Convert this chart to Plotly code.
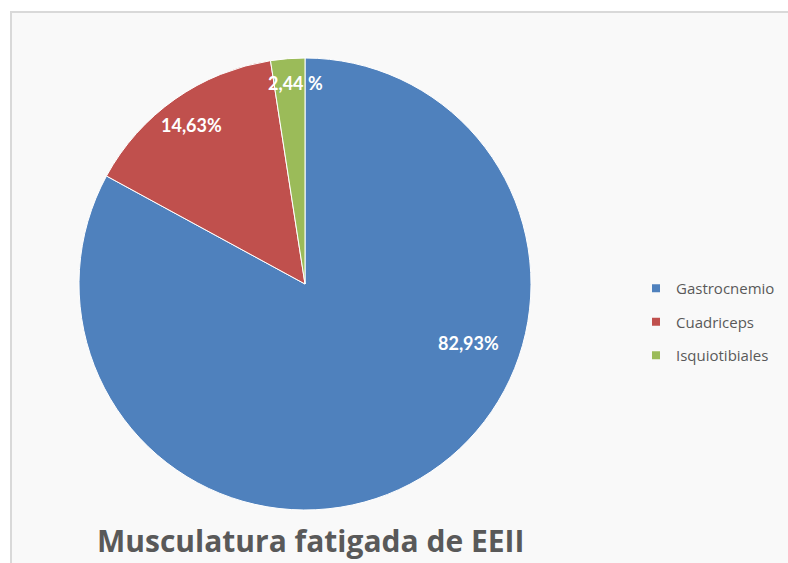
import plotly.graph_objects as go

W, H = 788, 563

categories = ["Gastrocnemio", "Cuadriceps", "Isquiotibiales"]
values = [82.93, 14.63, 2.44]
value_labels = ["82,93%", "14,63%", "2,44 %"]
colors = ["#4F81BD", "#C0504D", "#9BBB59"]
title_text = "Musculatura fatigada de EEII"

# label positions (pixels) as placed in the reference
label_px = [(468, 343), (191, 125), (295, 83)]

cx, cy, r = 305, 284, 226

fig = go.Figure()
fig.add_trace(go.Pie(
    labels=categories, values=values,
    marker=dict(colors=colors, line=dict(color="white", width=1)),
    sort=False, direction="clockwise", rotation=0,
    textinfo="none", hoverinfo="label+percent",
    showlegend=False,
    domain=dict(x=[(cx - r) / W, (cx + r) / W], y=[1 - (cy + r) / H, 1 - (cy - r) / H]),
))

# legend entries via invisible markers
for i, (c, col) in enumerate(zip(categories, colors)):
    fig.add_trace(go.Scatter(
        x=[None], y=[None], mode="markers", name=c,
        marker=dict(symbol="square", size=8, color=col),
        legendgroup=c, showlegend=True,
    ))

annotations = []
for (px, py), t in zip(label_px, value_labels):
    annotations.append(dict(
        x=px / W, y=1 - py / H, xref="paper", yref="paper",
        text=f"<b>{t}</b>", showarrow=False,
        font=dict(family="Lato", size=18, color="white"),
        xanchor="center", yanchor="middle",
    ))
annotations.append(dict(
    x=310 / W, y=1 - 540 / H, xref="paper", yref="paper",
    text=f"<b>{title_text}</b>", showarrow=False,
    font=dict(family="Open Sans", size=30, color="#595959"),
    xanchor="center", yanchor="middle",
))

fig.update_layout(
    width=W, height=H,
    margin=dict(l=0, r=0, t=0, b=0),
    paper_bgcolor="white", plot_bgcolor="rgba(0,0,0,0)",
    xaxis=dict(visible=False), yaxis=dict(visible=False),
    shapes=[dict(type="rect", xref="paper", yref="paper",
                 x0=11 / W, x1=1.02, y0=-0.02, y1=1 - 12 / H,
                 fillcolor="#F9F9F9", line=dict(color="#D9D9D9", width=2),
                 layer="below")],
    annotations=annotations,
    legend=dict(
        x=636 / W, y=1 - 272 / H, xanchor="left", yanchor="top",
        font=dict(family="Open Sans", size=15, color="#595959"),
        bgcolor="rgba(0,0,0,0)", itemwidth=30, tracegroupgap=11,
        traceorder="grouped",
    ),
    showlegend=True,
)

fig.write_html("out.html")
